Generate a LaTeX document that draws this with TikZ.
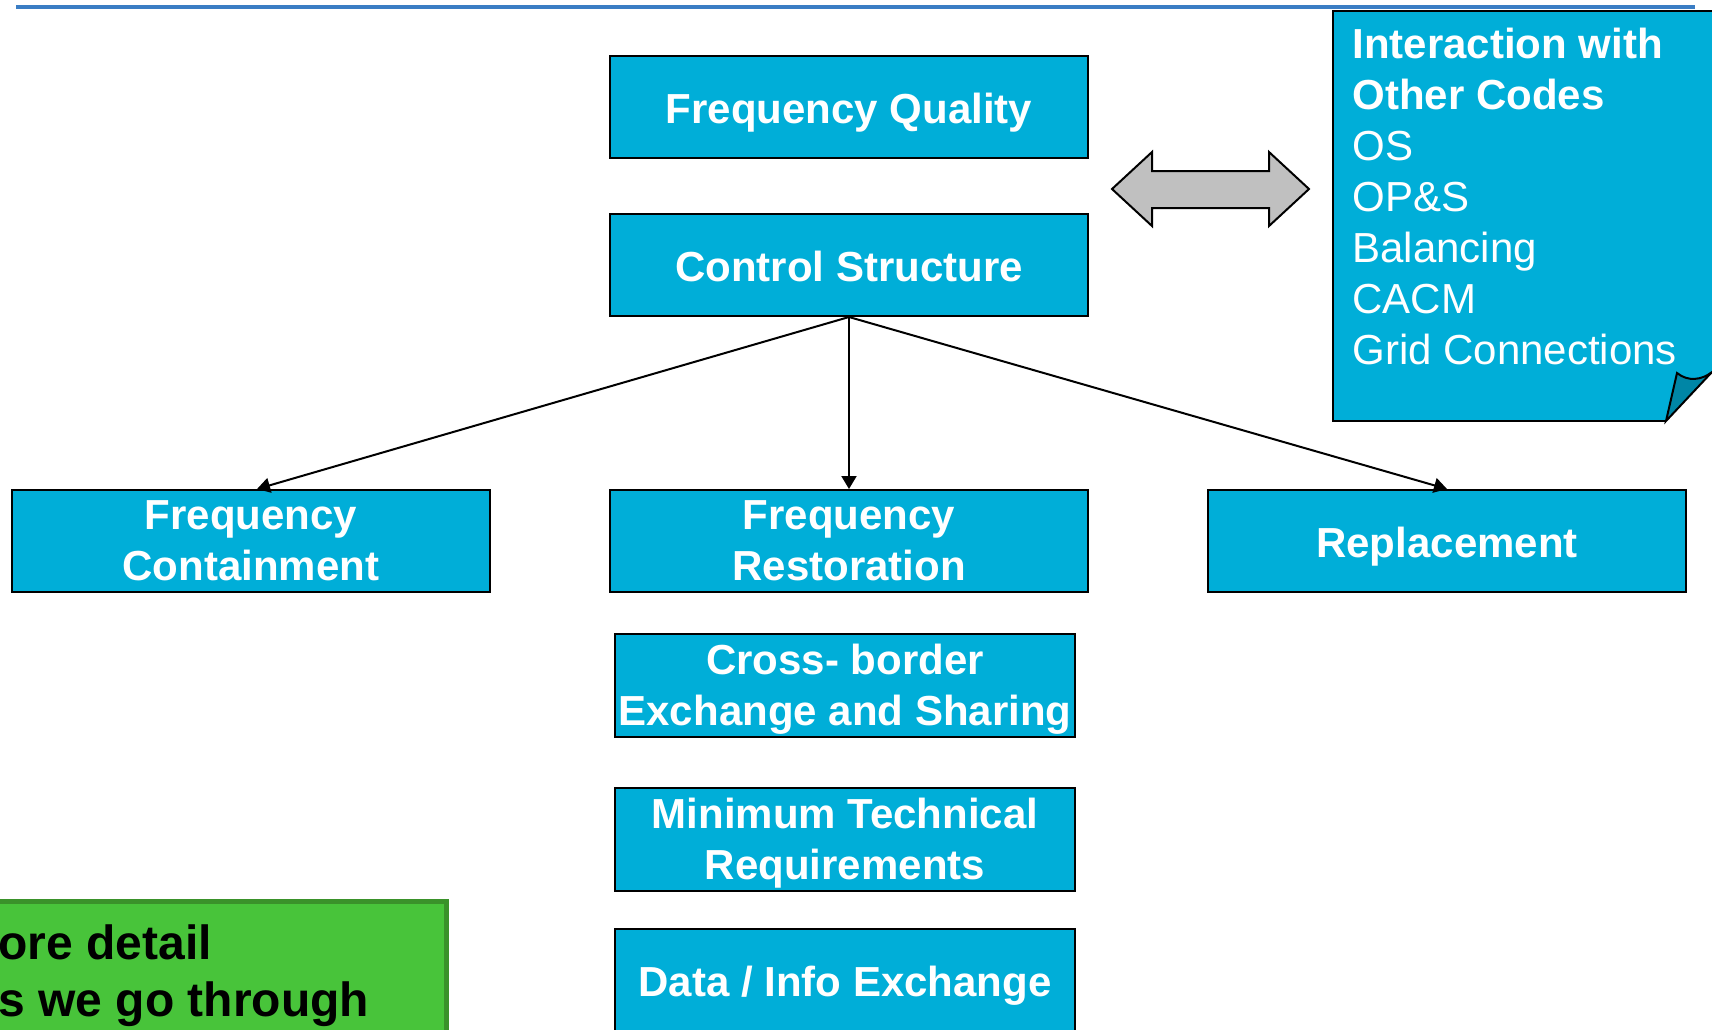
\documentclass[tikz,border=0pt]{standalone}
\usepackage{fontspec}
\setmainfont{Liberation Sans}
\usetikzlibrary{positioning,arrows.meta}
\definecolor{boxblue}{RGB}{0,174,216}
\definecolor{folddark}{RGB}{0,134,166}
\definecolor{linkgrey}{RGB}{192,192,192}
\definecolor{rulerblue}{RGB}{58,125,196}
\definecolor{notegreen}{RGB}{72,196,58}
\definecolor{notegreenborder}{RGB}{58,146,42}
\newcommand{\flatline}[1]{\raisebox{0pt}[\height][-2.6pt]{#1}}
\tikzset{
block/.style={rectangle, minimum width=239pt, minimum height=51pt, inner sep=1pt, text centered, align=center, draw=black, line width=1pt, fill=boxblue, text=white, text height=16.6pt, text depth=0pt, font=\fontsize{21}{25.5}\selectfont\bfseries},
twoline/.style={text height=, text depth=},
narrowblock/.style={block, minimum width=230pt, minimum height=51.5pt},
arrow/.style={line width=1pt,-{Triangle[length=6.5pt,width=7.5pt]}},
notetext/.style={anchor=north west, inner sep=0pt, align=left, text=white, font=\fontsize{21}{25.5}\selectfont},
greentext/.style={anchor=north west, inner sep=0pt, align=left, text=black, font=\fontsize{24}{28.5}\selectfont\bfseries}}

\begin{document}
\begin{tikzpicture}[x=0.5pt,y=-0.5pt]
\useasboundingbox (0,0) rectangle (1712,1029);
\clip (0,0) rectangle (1712,1029);
\draw [rulerblue, line width=2pt] (16,7) -- (1695,7);

\node (fq) [block] at (849,107) {Frequency Quality};
\node (cs) [block, below of=fq, node distance=79pt] {Control Structure};
\node (fr) [block, twoline, below of=cs, node distance=138pt] {Frequency\\\flatline{Restoration}};
\node (fc) [block, twoline, left of=fr, node distance=299pt] {Frequency\\\flatline{Containment}};
\node (repl) [block, right of=fr, node distance=299pt] {Replacement};
\node (xb) [narrowblock, twoline, below of=fr, node distance=72pt, xshift=-2pt] {Cross- border\\\flatline{Exchange and Sharing}};
\node (mtr) [narrowblock, twoline, below of=xb, node distance=77pt] {Minimum Technical\\\flatline{Requirements}};
\node (data) [narrowblock, below of=mtr, node distance=70.5pt] {Data / Info Exchange};

\draw [arrow] (cs.south) -- ([xshift=3pt]fc.north);
\draw [arrow] (cs.south) -- (fr.north);
\draw [arrow] (cs.south) -- (repl.north);

\filldraw [fill=linkgrey, draw=black, line width=1pt] (1112,189) -- (1152,152) -- (1152,171) -- (1269,171) -- (1269,152) -- (1309,189) -- (1269,226) -- (1269,208) -- (1152,208) -- (1152,226) -- cycle;

\fill [boxblue] (1333,11) -- (1714,11) -- (1714,372) -- (1712,372) -- (1666,421) -- (1333,421) -- cycle;
\draw [line width=1pt] (1714,11) -- (1333,11) -- (1333,421) -- (1666,421);
\filldraw [fill=folddark, line width=1pt] (1666,421) -- (1677,373) .. controls (1688,382) and (1702,380) .. (1712,372) -- cycle;
\node (codes) [notetext] at (1352,28) {\textbf{Interaction with}\\\textbf{Other Codes}\\OS\\OP\&S\\Balancing\\CACM\\Grid Connections};

\filldraw [fill=notegreen, draw=notegreenborder, line width=2.5pt] (-5,901) rectangle (446,1040);
\node (more) [greentext] at (-2,924) {ore detail\\s we go through};
\end{tikzpicture}
\end{document}
